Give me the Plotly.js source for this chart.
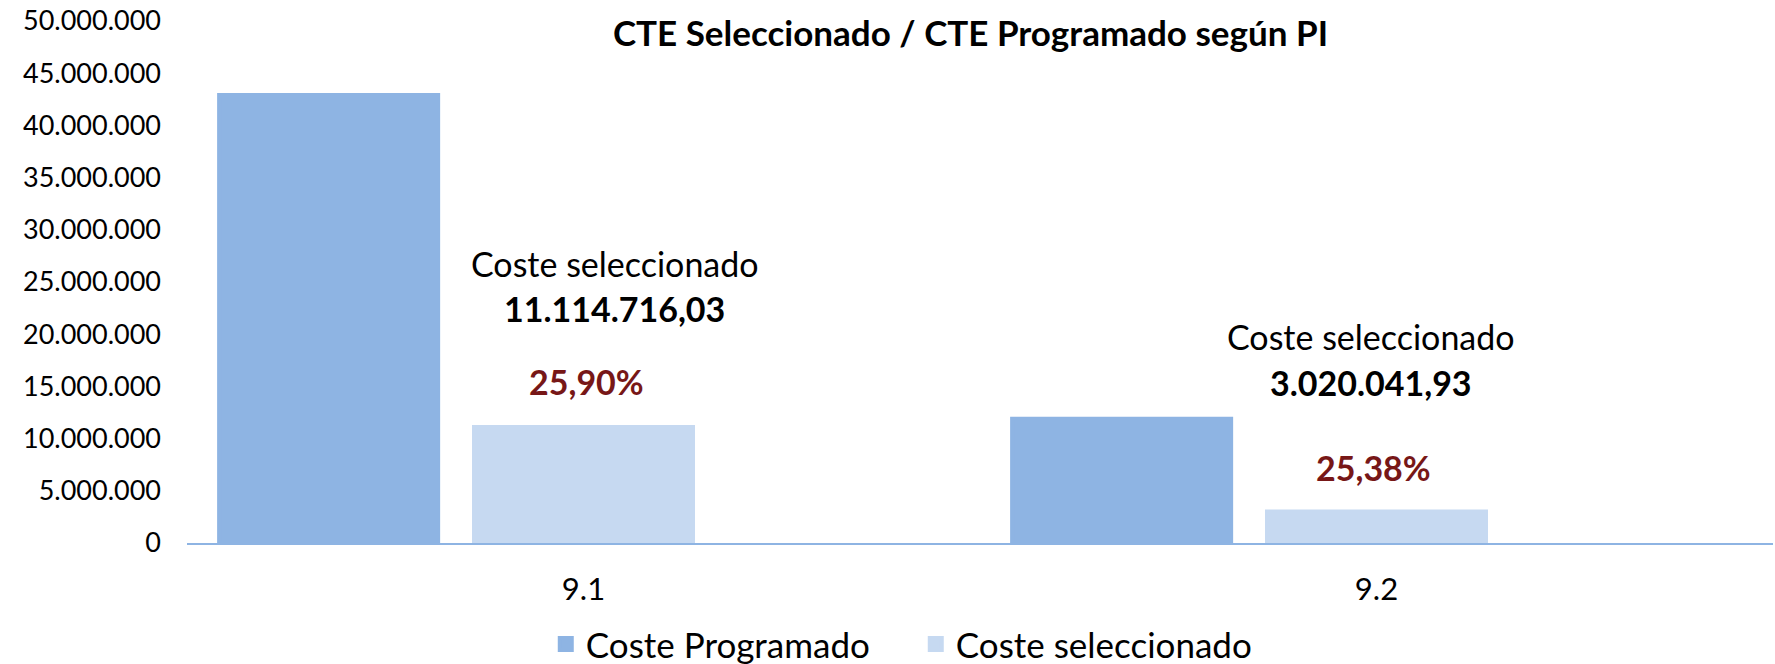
<!DOCTYPE html>
<html>
<head>
<meta charset="utf-8">
<script src="https://cdn.plot.ly/plotly-3.0.1.min.js"></script>
<style>html,body{margin:0;padding:0;background:#fff;}#chart{width:1775px;height:664px;}</style>
</head>
<body>
<div id="chart"></div>
<script>
// ---- data ----
const categories = ['9.1', '9.2'];
const costeProgramado = [42913962, 11899298];
const costeSeleccionado = [11114716.03, 3020041.93];
const seleccionadoLabels = ['11.114.716,03', '3.020.041,93'];
const porcentajeLabels = ['25,90%', '25,38%'];
const seriesNames = ['Coste Programado', 'Coste seleccionado'];
const chartTitle = 'CTE Seleccionado / CTE Programado según PI';

const FONT = 'Lato, "Open Sans", sans-serif';
const colProg = '#8EB4E3';
const colSel = '#C6D9F1';

const traces = [
  {
    type: 'bar', name: seriesNames[0], x: categories, y: costeProgramado,
    marker: {color: colProg, line: {color: colProg, width: 4}},
    width: 0.2762, offset: -0.4595, hoverinfo: 'none'
  },
  {
    type: 'bar', name: seriesNames[1], x: categories, y: costeSeleccionado,
    marker: {color: colSel, line: {color: colSel, width: 4}},
    width: 0.2762, offset: -0.1381, hoverinfo: 'none'
  }
];

// label placement (pixel shifts relative to the top of each selected bar)
const labelXShift = [[31, 3], [-6, -3]];
const labelYShift = [[163, 118, 45.5], [174.5, 129, 44]];

const annotations = [];
for (let i = 0; i < categories.length; i++) {
  annotations.push({
    x: i, y: costeSeleccionado[i], xref: 'x', yref: 'y',
    text: 'Coste seleccionado', showarrow: false,
    xanchor: 'center', yanchor: 'middle',
    xshift: labelXShift[i][0], yshift: labelYShift[i][0],
    font: {family: FONT, size: 34, color: '#000000'}
  });
  annotations.push({
    x: i, y: costeSeleccionado[i], xref: 'x', yref: 'y',
    text: '<b>' + seleccionadoLabels[i] + '</b>', showarrow: false,
    xanchor: 'center', yanchor: 'middle',
    xshift: labelXShift[i][0], yshift: labelYShift[i][1],
    font: {family: FONT, size: 34, color: '#000000'}
  });
  annotations.push({
    x: i, y: costeSeleccionado[i], xref: 'x', yref: 'y',
    text: '<b>' + porcentajeLabels[i] + '</b>', showarrow: false,
    xanchor: 'center', yanchor: 'middle',
    xshift: labelXShift[i][1], yshift: labelYShift[i][2],
    font: {family: FONT, size: 34, color: '#771717'}
  });
}

const layout = {
  width: 1775, height: 664,
  margin: {l: 187, r: 2, t: 21, b: 121, pad: 0, autoexpand: false},
  paper_bgcolor: '#ffffff', plot_bgcolor: '#ffffff',
  separators: ',.',
  font: {family: FONT, color: '#000000'},
  title: {
    text: '<b>' + chartTitle + '</b>',
    font: {family: FONT, size: 35, color: '#000000'},
    x: 0.494, xref: 'paper', xanchor: 'center',
    y: 1 - 34 / 664, yref: 'container', yanchor: 'middle'
  },
  xaxis: {
    type: 'category', range: [-0.5, 1.5], automargin: false,
    showline: true, linecolor: colProg, linewidth: 2,
    showgrid: false, zeroline: false, ticks: '',
    tickfont: {family: FONT, size: 31, color: '#000000'},
    ticklabelstandoff: 18
  },
  yaxis: {
    range: [0, 50000000], dtick: 5000000, tick0: 0, automargin: false,
    tickformat: ',d', showgrid: false, zeroline: false, showline: false,
    ticks: '', tickfont: {family: FONT, size: 27, color: '#000000'},
    ticklabelstandoff: 25
  },
  showlegend: true,
  legend: {
    orientation: 'h', x: 0.4595, xanchor: 'center', xref: 'paper',
    y: -0.194, yanchor: 'middle',
    entrywidth: 325, entrywidthmode: 'pixels',
    font: {family: FONT, size: 35, color: '#000000'},
    itemclick: false, itemdoubleclick: false
  },
  annotations: annotations,
  bargap: 0
};

Plotly.newPlot('chart', traces, layout, {staticPlot: true, displayModeBar: false});
</script>
</body>
</html>
